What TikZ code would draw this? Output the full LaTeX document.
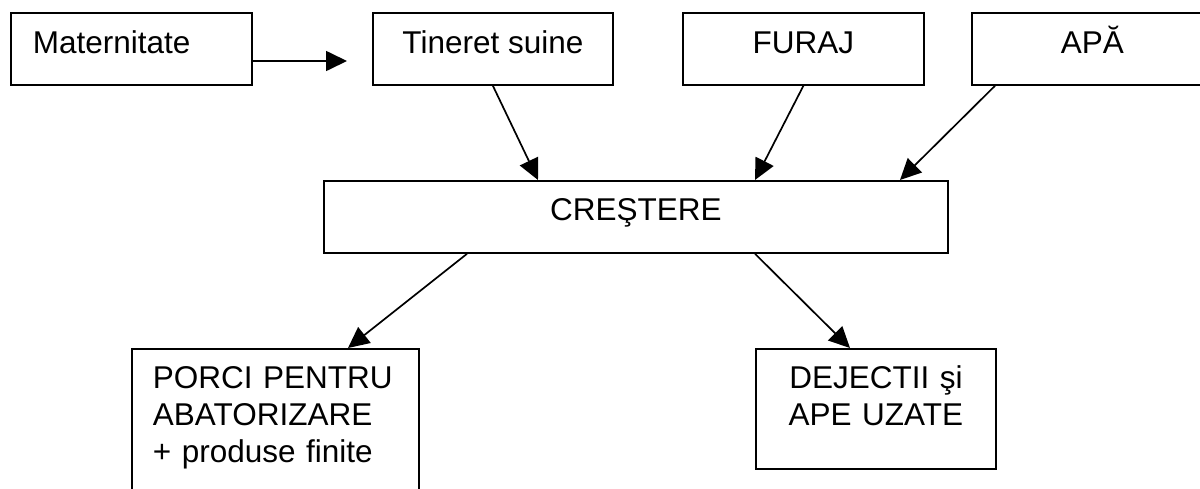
\documentclass[tikz,border=0pt]{standalone}
\usepackage{fontspec}
\setmainfont{Liberation Sans}
\usetikzlibrary{arrows.meta,calc}
\begin{document}
\begin{tikzpicture}[x=1pt,y=-1pt,
  box/.style={draw, line width=1.8pt, inner xsep=0pt, inner ysep=0pt,
    font=\fontsize{31.5}{37}\selectfont},
  topbox/.style={box, anchor=north west, text height=41pt, text depth=31pt},
  arr/.style={line width=1.7pt, -{Triangle[length=21pt,width=20pt]}}]
\useasboundingbox (0,0) rectangle (1200,488);
\clip (0,0) rectangle (1200,488);
\fill[white] (0,0) rectangle (1200,488);
% top row
\node[topbox, text width=197pt, inner xsep=22pt, align=left] (mat) at (10,12) {Maternitate};
\node[topbox, minimum width=240pt] (tin) at (372,12) {Tineret suine};
\node[topbox, minimum width=241pt] (fur) at (682,12) {FURAJ};
\node[topbox, minimum width=241pt] (apa) at (971,12) {APĂ};
% middle
\node[box, anchor=north west, minimum width=624pt, text height=40pt, text depth=32pt] (cre) at (323,180) {CREŞTERE};
% bottom
\node[box, anchor=north west, text width=245pt, inner xsep=21pt, align=left,
  text height=40pt, text depth=125pt] (por) at (131,348) {PORCI PENTRU\\ABATORIZARE\\+ produse finite};
\node[box, anchor=north west, text width=200pt, inner xsep=20pt, align=center,
  text height=40pt, text depth=80pt] (dej) at (755,348) {DEJECTII şi\\APE UZATE};
% connectors
\coordinate (tinin) at (347,61);
\draw[arr] ($(mat.north east)+(0,49)$) -- (tinin);
\draw[arr] (tin.south) -- ($(cre.north west)+(215,0)$);
\draw[arr] (fur.south) -- ($(cre.north west)+(432,0)$);
\draw[arr] ($(apa.south west)+(24,0)$) -- ($(cre.north west)+(577,0)$);
\draw[arr] ($(cre.south west)+(144,0)$) -- ($(por.north west)+(217,0)$);
\draw[arr] ($(cre.south west)+(432,0)$) -- ($(dej.north west)+(95,0)$);
\end{tikzpicture}
\end{document}
